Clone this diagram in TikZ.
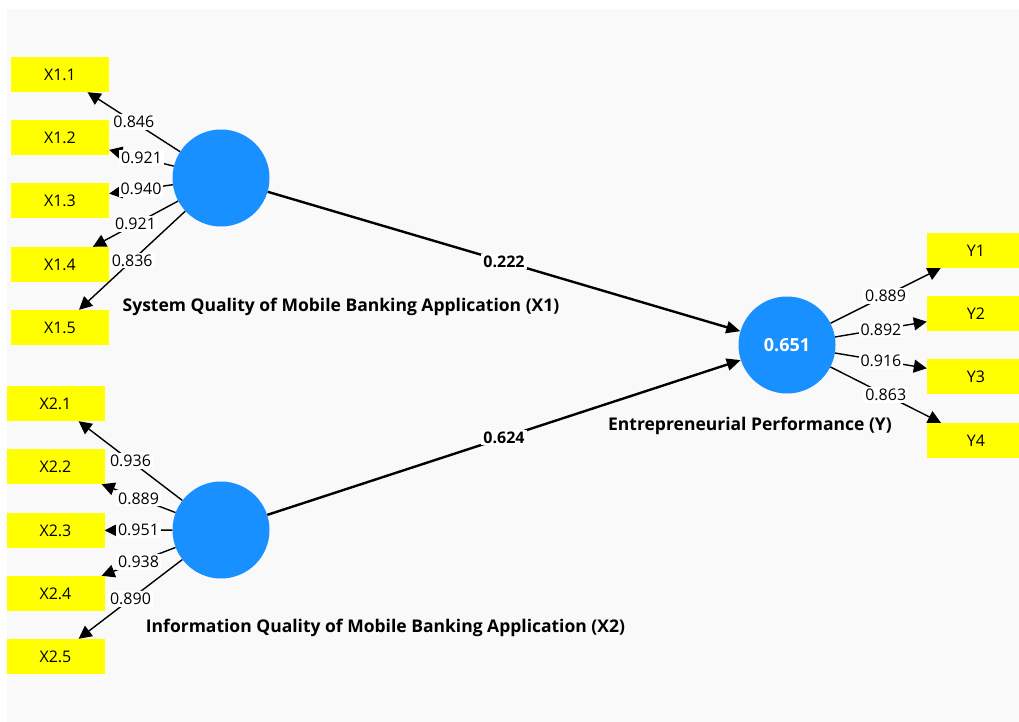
\documentclass[tikz,border=0pt]{standalone}
\usepackage{fontspec}
\setmainfont{Open Sans}
\usetikzlibrary{arrows.meta}
\definecolor{canvas}{HTML}{F9F9F9}
\definecolor{latent}{HTML}{1890FF}
\definecolor{indicator}{HTML}{FFFF00}
\tikzset{
  x=1pt, y=-1pt,
  construct/.style={circle, fill=latent, minimum size=97pt, inner sep=0pt,
    text=white, font=\fontsize{18}{21}\selectfont\bfseries},
  itembox/.style={rectangle, fill=indicator, minimum width=98pt, minimum height=35pt,
    inner sep=0pt, font=\fontsize{16}{19}\selectfont},
  loading/.style={draw=black, line width=1.4pt, -{Triangle[length=13pt,width=13pt]}},
  pathcoef/.style={draw=black, line width=2.4pt, -{Triangle[length=14pt,width=12pt]}},
  wlabel/.style={fill=white, inner sep=2pt, font=\fontsize{16}{19}\selectfont},
  blabel/.style={fill=white, inner sep=2pt, font=\fontsize{16}{19}\selectfont\bfseries},
  cname/.style={font=\fontsize{17.5}{20}\selectfont\bfseries, inner sep=0pt},
}
\begin{document}
\begin{tikzpicture}
\clip (0,0) rectangle (1019,722);
\fill[white] (0,0) rectangle (1019,722);
\fill[canvas] (7,9) rectangle (1019,722);

% latent constructs
\node[construct] (X1) at (221,178) {};
\node[construct] (X2) at (221,530) {};
\node[construct] (Y) at (787,345) {0.651};

\node[cname] (nX1) at (341,307) {System Quality of Mobile Banking Application (X1)};
\node[cname] (nX2) at (385.5,628) {Information Quality of Mobile Banking Application (X2)};
\node[cname] (nY) at (750,426) {Entrepreneurial Performance (Y)};

% indicators of X1
\node[itembox] (x11) at (60,74.5) {X1.1};
\node[itembox] (x12) at (60,137.5) {X1.2};
\node[itembox] (x13) at (60,200.5) {X1.3};
\node[itembox] (x14) at (60,264.5) {X1.4};
\node[itembox] (x15) at (60,327.5) {X1.5};

% indicators of X2
\node[itembox] (x21) at (55.5,403.5) {X2.1};
\node[itembox] (x22) at (55.5,466.5) {X2.2};
\node[itembox] (x23) at (55.5,530.5) {X2.3};
\node[itembox] (x24) at (55.5,593.5) {X2.4};
\node[itembox] (x25) at (55.5,656.5) {X2.5};

% indicators of Y
\node[itembox] (y1) at (976,250.5) {Y1};
\node[itembox] (y2) at (976,313.5) {Y2};
\node[itembox] (y3) at (976,376.5) {Y3};
\node[itembox] (y4) at (976,440.5) {Y4};

% outer loadings
\draw[loading] (X1) -- node[wlabel] {0.846} (x11);
\draw[loading] (X1) -- node[wlabel] {0.921} (x12);
\draw[loading] (X1) -- node[wlabel] {0.940} (x13);
\draw[loading] (X1) -- node[wlabel] {0.921} (x14);
\draw[loading] (X1) -- node[wlabel] {0.836} (x15);

\draw[loading] (X2) -- node[wlabel] {0.936} (x21);
\draw[loading] (X2) -- node[wlabel] {0.889} (x22);
\draw[loading] (X2) -- node[wlabel] {0.951} (x23);
\draw[loading] (X2) -- node[wlabel] {0.938} (x24);
\draw[loading] (X2) -- node[wlabel] {0.890} (x25);

\draw[loading] (Y) -- node[wlabel] {0.889} (y1);
\draw[loading] (Y) -- node[wlabel] {0.892} (y2);
\draw[loading] (Y) -- node[wlabel] {0.916} (y3);
\draw[loading] (Y) -- node[wlabel] {0.863} (y4);

% structural paths
\draw[pathcoef] (X1) -- node[blabel] {0.222} (Y);
\draw[pathcoef] (X2) -- node[blabel] {0.624} (Y);
\end{tikzpicture}
\end{document}
